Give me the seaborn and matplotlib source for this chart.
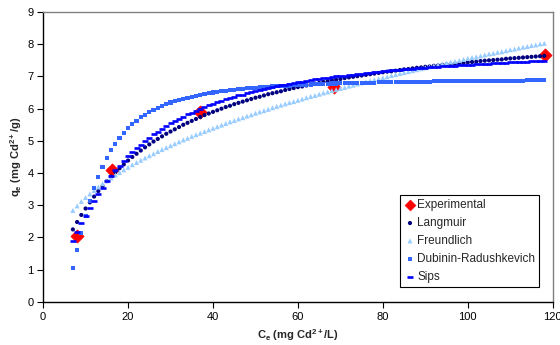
import numpy as np
import pandas as pd
import matplotlib
matplotlib.use('Agg')
import matplotlib.pyplot as plt
import seaborn as sns

# experimental points
ce_exp = [7.9, 16.2, 36.9, 68.4, 118.1]
qe_exp = [2.06, 4.11, 5.91, 6.66, 7.66]

# model curves (Ce = 7 ... 118)
ce_model = list(range(7, 119))

qe_langmuir = [
    2.25, 2.48, 2.70, 2.90, 3.09, 3.27, 3.44, 3.60, 3.75, 3.89,
    4.03, 4.15, 4.27, 4.39, 4.50, 4.60, 4.70, 4.80, 4.89, 4.98,
    5.06, 5.14, 5.22, 5.29, 5.36, 5.43, 5.50, 5.56, 5.62, 5.68,
    5.74, 5.80, 5.85, 5.90, 5.95, 6.00, 6.05, 6.09, 6.14, 6.18,
    6.22, 6.26, 6.30, 6.34, 6.37, 6.41, 6.45, 6.48, 6.51, 6.54,
    6.58, 6.61, 6.64, 6.67, 6.69, 6.72, 6.75, 6.78, 6.80, 6.83,
    6.85, 6.88, 6.90, 6.92, 6.95, 6.97, 6.99, 7.01, 7.03, 7.05,
    7.07, 7.09, 7.11, 7.13, 7.15, 7.16, 7.18, 7.20, 7.22, 7.23,
    7.25, 7.27, 7.28, 7.30, 7.31, 7.33, 7.34, 7.36, 7.37, 7.38,
    7.40, 7.41, 7.42, 7.44, 7.45, 7.46, 7.48, 7.49, 7.50, 7.51,
    7.52, 7.53, 7.55, 7.56, 7.57, 7.58, 7.59, 7.60, 7.61, 7.62,
    7.63, 7.64,
]

qe_freundlich = [
    2.84, 2.98, 3.12, 3.24, 3.35, 3.46, 3.57, 3.67, 3.76, 3.85,
    3.94, 4.02, 4.10, 4.18, 4.26, 4.33, 4.40, 4.47, 4.54, 4.60,
    4.67, 4.73, 4.79, 4.85, 4.91, 4.97, 5.03, 5.08, 5.14, 5.19,
    5.24, 5.29, 5.34, 5.39, 5.44, 5.49, 5.54, 5.59, 5.63, 5.68,
    5.72, 5.77, 5.81, 5.86, 5.90, 5.94, 5.98, 6.03, 6.07, 6.11,
    6.15, 6.19, 6.22, 6.26, 6.30, 6.34, 6.38, 6.41, 6.45, 6.49,
    6.52, 6.56, 6.59, 6.63, 6.66, 6.70, 6.73, 6.77, 6.80, 6.83,
    6.87, 6.90, 6.93, 6.96, 6.99, 7.03, 7.06, 7.09, 7.12, 7.15,
    7.18, 7.21, 7.24, 7.27, 7.30, 7.33, 7.36, 7.39, 7.42, 7.45,
    7.47, 7.50, 7.53, 7.56, 7.59, 7.61, 7.64, 7.67, 7.70, 7.72,
    7.75, 7.77, 7.80, 7.83, 7.85, 7.88, 7.91, 7.93, 7.96, 7.98,
    8.01, 8.03,
]

qe_dr = [
    1.06, 1.60, 2.15, 2.66, 3.12, 3.53, 3.89, 4.20, 4.47, 4.71,
    4.91, 5.09, 5.25, 5.39, 5.52, 5.63, 5.73, 5.81, 5.89, 5.96,
    6.03, 6.09, 6.14, 6.19, 6.23, 6.27, 6.31, 6.34, 6.37, 6.40,
    6.43, 6.45, 6.48, 6.50, 6.52, 6.54, 6.55, 6.57, 6.59, 6.60,
    6.61, 6.63, 6.64, 6.65, 6.66, 6.67, 6.68, 6.69, 6.70, 6.70,
    6.71, 6.72, 6.73, 6.73, 6.74, 6.75, 6.75, 6.76, 6.76, 6.77,
    6.77, 6.78, 6.78, 6.79, 6.79, 6.79, 6.80, 6.80, 6.80, 6.81,
    6.81, 6.81, 6.82, 6.82, 6.82, 6.82, 6.83, 6.83, 6.83, 6.83,
    6.84, 6.84, 6.84, 6.84, 6.84, 6.85, 6.85, 6.85, 6.85, 6.85,
    6.85, 6.86, 6.86, 6.86, 6.86, 6.86, 6.86, 6.86, 6.87, 6.87,
    6.87, 6.87, 6.87, 6.87, 6.87, 6.87, 6.87, 6.88, 6.88, 6.88,
    6.88, 6.88,
]

qe_sips = [
    1.90, 2.17, 2.44, 2.68, 2.92, 3.14, 3.35, 3.55, 3.74, 3.91,
    4.08, 4.23, 4.38, 4.52, 4.65, 4.77, 4.88, 4.99, 5.10, 5.20,
    5.29, 5.38, 5.46, 5.54, 5.61, 5.69, 5.75, 5.82, 5.88, 5.94,
    6.00, 6.05, 6.10, 6.15, 6.20, 6.24, 6.29, 6.33, 6.37, 6.41,
    6.44, 6.48, 6.51, 6.55, 6.58, 6.61, 6.64, 6.67, 6.70, 6.72,
    6.75, 6.77, 6.80, 6.82, 6.84, 6.86, 6.89, 6.91, 6.93, 6.94,
    6.96, 6.98, 7.00, 7.02, 7.03, 7.05, 7.06, 7.08, 7.09, 7.11,
    7.12, 7.14, 7.15, 7.16, 7.17, 7.19, 7.20, 7.21, 7.22, 7.23,
    7.24, 7.25, 7.26, 7.27, 7.28, 7.29, 7.30, 7.31, 7.32, 7.33,
    7.34, 7.35, 7.36, 7.36, 7.37, 7.38, 7.39, 7.39, 7.40, 7.41,
    7.42, 7.42, 7.43, 7.44, 7.44, 7.45, 7.45, 7.46, 7.47, 7.47,
    7.48, 7.48,
]

sns.set_theme(style='white')
plt.rcParams['font.family'] = ['Liberation Sans', 'DejaVu Sans']
plt.rcParams['mathtext.fontset'] = 'custom'
plt.rcParams['mathtext.rm'] = 'Liberation Sans'
plt.rcParams['mathtext.bf'] = 'Liberation Sans:bold'

exp_df = pd.DataFrame({'Ce': ce_exp, 'qe': qe_exp})
model_df = pd.DataFrame({'Ce': ce_model, 'Langmuir': qe_langmuir,
                         'Freundlich': qe_freundlich,
                         'Dubinin-Radushkevich': qe_dr, 'Sips': qe_sips})

fig = plt.figure(figsize=(5.6, 3.45), dpi=100)
ax = fig.add_axes([0.077, 0.125, 0.910, 0.840])

sns.scatterplot(data=exp_df, x='Ce', y='qe', ax=ax, marker='D', s=45,
                color='#FF0000', edgecolor='#FF0000', linewidth=0.5,
                label='Experimental', zorder=2)
sns.scatterplot(data=model_df, x='Ce', y='Langmuir', ax=ax, marker='o', s=9,
                color='#000080', edgecolor='none', label='Langmuir', zorder=3)
sns.scatterplot(data=model_df, x='Ce', y='Freundlich', ax=ax, marker='^', s=13,
                color='#99CCFF', edgecolor='none', label='Freundlich', zorder=4)
sns.scatterplot(data=model_df, x='Ce', y='Dubinin-Radushkevich', ax=ax, marker='s', s=9,
                color='#3366FF', edgecolor='none', label='Dubinin-Radushkevich', zorder=5)
sns.scatterplot(data=model_df, x='Ce', y='Sips', ax=ax, marker='_', s=16,
                color='#0000FF', linewidth=1.9, label='Sips', zorder=6)

ax.set_xlim(0, 120)
ax.set_ylim(0, 9)
ax.set_xticks(range(0, 121, 20))
ax.set_yticks(range(0, 10))

for side in ['top', 'right']:
    ax.spines[side].set_color('#808080')
    ax.spines[side].set_linewidth(1.0)
for side in ['left', 'bottom']:
    ax.spines[side].set_color('black')
    ax.spines[side].set_linewidth(1.0)

ax.tick_params(axis='both', direction='out', length=4, width=0.8, color='black',
               labelsize=8, labelcolor='black', pad=3, left=True, bottom=True)

ax.set_xlabel(r'C$_\mathbf{e}$ (mg Cd$^\mathbf{2+}$/L)', fontsize=8, fontweight='bold', labelpad=4)
ax.set_ylabel(r'q$_\mathbf{e}$ (mg Cd$^\mathbf{2+}$/g)', fontsize=8, fontweight='bold', labelpad=2)

leg = ax.legend(loc='lower right', bbox_to_anchor=(0.985, 0.031), fontsize=8.5,
                frameon=True, fancybox=False, edgecolor='black', framealpha=1,
                handletextpad=0.1, handlelength=1.0, borderpad=0.35, labelspacing=0.5)
leg.get_frame().set_linewidth(0.8)
leg.legend_handles[0].set_sizes([30])

fig.savefig('out.png', dpi=100)
